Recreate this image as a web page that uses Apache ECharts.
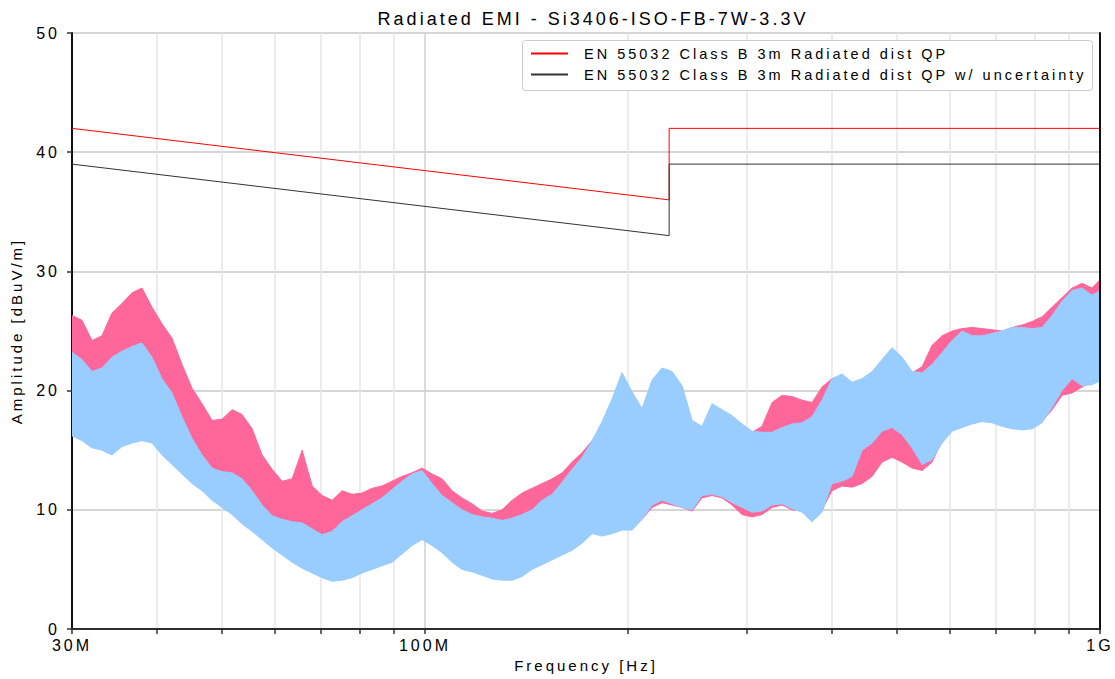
<!DOCTYPE html>
<html>
<head>
<meta charset="utf-8">
<script src="https://cdn.jsdelivr.net/npm/echarts@6/dist/echarts.min.js"></script>
<style>
  html, body { margin: 0; padding: 0; background: #ffffff; }
  #chart { width: 1115px; height: 679px; }
  #chart text { letter-spacing: 3px; }
</style>
</head>
<body>
<div id="chart"></div>
<script>
// ---------------- data ----------------
// sample frequencies (MHz)
const freqMHz = [30, 31.04, 32.12, 33.23, 34.38, 35.57, 36.81, 38.09, 39.41, 40.78,
  42.2, 43.66, 45.18, 46.75, 48.37, 50.05, 51.79, 53.59, 55.45, 57.38,
  59.37, 61.43, 63.57, 65.78, 68.06, 70.42, 72.87, 75.36, 77.97, 80.68,
  83.48, 86.38, 89.38, 92.48, 95.69, 99.02, 102.46, 106.02, 109.68, 113.49,
  117.43, 121.51, 125.73, 130.1, 134.63, 139.25, 144.08, 149.09, 154.27, 159.63,
  165.17, 170.91, 176.85, 182.99, 189.29, 195.86, 202.67, 209.71, 217.04, 224.57,
  232.34, 240.41, 248.76, 257.31, 266.25, 275.5, 285.07, 294.93, 305.17, 315.73,
  326.7, 338.05, 349.76, 361.92, 374.47, 387.46, 400.91, 414.83, 429.27, 444.14,
  459.58, 475.47, 491.98, 509.06, 526.69, 545.07, 563.97, 583.55, 603.81, 624.78,
  646.33, 668.74, 692, 716, 740.9, 766.6, 793.2, 820.6, 849.2, 878.6,
  909.1, 940.6, 973.3, 1000];

// measurement 1 (pink) envelope: upper / lower (dBuV/m)
const pinkUpper = [26.3, 25.9, 24.2, 24.6, 26.5, 27.3, 28.2, 28.6, 27.0, 25.6,
  24.4, 22.2, 20.2, 18.9, 17.5, 17.6, 18.4, 18.0, 16.8, 14.6,
  13.4, 12.4, 12.6, 15.0, 12.0, 11.2, 10.8, 11.6, 11.3, 11.4,
  11.8, 12.0, 12.4, 12.8, 13.1, 13.5, 13.0, 12.6, 11.6, 11.0,
  10.5, 9.9, 9.7, 10.0, 10.8, 11.4, 11.8, 12.2, 12.6, 13.1,
  14.0, 14.8, 15.8, 17.0, 19.0, 20.8, 19.6, 18.3, 20.7, 21.6,
  21.2, 20.2, 17.3, 16.8, 18.6, 18.2, 17.6, 17.0, 16.5, 17.0,
  19.0, 19.6, 19.5, 19.2, 19.0, 20.3, 21.0, 21.2, 20.6, 20.8,
  21.5, 22.5, 23.2, 22.5, 21.5, 22.0, 23.8, 24.6, 25.0, 25.2,
  25.3, 25.2, 25.1, 25.0, 25.3, 25.5, 25.8, 26.2, 27.0, 27.8,
  28.6, 29.0, 28.6, 29.3];
const pinkLower = [19.0, 18.8, 18.0, 18.0, 19.0, 19.8, 20.5, 20.8, 20.0, 18.8,
  17.5, 15.8, 14.2, 12.8, 11.8, 11.6, 11.5, 11.0, 10.0, 9.0,
  8.0, 7.5, 7.2, 7.0, 6.6, 6.0, 5.6, 5.6, 5.8, 6.2,
  6.6, 7.0, 7.4, 7.8, 8.0, 8.0, 7.4, 6.8, 6.0, 5.4,
  5.0, 4.6, 4.4, 4.4, 4.6, 5.0, 5.4, 5.8, 6.2, 6.6,
  7.0, 7.6, 8.2, 8.2, 8.4, 8.4, 8.6, 9.2, 10.2, 10.6,
  10.4, 10.2, 9.9, 11.0, 11.2, 11.0, 10.4, 9.6, 9.4, 9.6,
  10.2, 10.4, 10.0, 9.9, 9.4, 10.0, 11.6, 12.0, 11.9, 12.2,
  12.8, 14.0, 14.4, 14.0, 13.5, 13.3, 14.0, 15.8, 16.8, 17.2,
  17.4, 17.6, 17.5, 17.2, 17.0, 16.9, 17.0, 17.4, 18.4, 19.6,
  19.8, 20.3, 20.8, 21.0];

// measurement 2 (light blue) envelope: upper / lower (dBuV/m)
const blueUpper = [23.2, 22.6, 21.6, 21.9, 22.8, 23.3, 23.7, 24.0, 22.8, 21.0,
  19.8, 17.8, 16.0, 14.6, 13.5, 13.2, 13.1, 12.6, 11.6, 10.4,
  9.5, 9.2, 9.0, 8.9, 8.4, 7.9, 8.2, 9.0, 9.5, 10.0,
  10.5, 11.0, 11.7, 12.4, 13.0, 13.3, 12.2, 11.2, 10.6, 10.0,
  9.6, 9.4, 9.3, 9.1, 9.3, 9.6, 10.0, 10.8, 11.3, 12.3,
  13.4, 14.4, 15.8, 17.4, 19.3, 21.5, 19.9, 18.5, 20.9, 21.9,
  21.6, 20.4, 17.5, 17.0, 18.9, 18.4, 17.9, 17.2, 16.6, 16.5,
  16.5, 16.9, 17.2, 17.3, 17.8, 19.2, 21.0, 21.4, 20.7, 21.0,
  21.6, 22.6, 23.6, 22.8, 21.6, 21.5, 22.2, 23.2, 24.2, 25.0,
  24.6, 24.6, 24.8, 25.0, 25.3, 25.3, 25.2, 25.3, 26.3, 27.5,
  28.4, 28.6, 28.0, 28.4];
const blueLower = [16.2, 15.8, 15.2, 15.0, 14.6, 15.3, 15.6, 15.8, 15.6, 14.6,
  13.8, 13.0, 12.2, 11.6, 10.8, 10.2, 9.6, 8.8, 8.2, 7.5,
  6.8, 6.2, 5.6, 5.1, 4.7, 4.3, 4.0, 4.1, 4.3, 4.7,
  5.0, 5.3, 5.6, 6.3, 7.0, 7.5, 7.0, 6.4, 5.6, 5.0,
  4.8, 4.5, 4.2, 4.1, 4.1, 4.4, 5.0, 5.4, 5.8, 6.2,
  6.6, 7.2, 8.0, 7.8, 8.0, 8.3, 8.3, 9.2, 10.4, 10.8,
  10.5, 10.2, 10.0, 11.2, 11.3, 11.1, 10.6, 10.2, 9.8, 9.9,
  10.4, 10.5, 10.1, 9.8, 9.0, 9.8, 12.2, 12.4, 12.8, 15.0,
  15.6, 16.6, 16.9, 16.3, 15.2, 13.8, 14.2, 15.6, 16.6, 16.9,
  17.2, 17.4, 17.3, 17.0, 16.8, 16.7, 16.8, 17.3, 18.6, 20.0,
  21.0, 20.4, 20.5, 20.8];

// limit lines: [frequency MHz, level dBuV/m]
const limitQP = [[30, 42], [230, 36], [230, 42], [1000, 42]];
const limitQPUnc = [[30, 39], [230, 33], [230, 39], [1000, 39]];

// axis ticks (MHz)
const xTickMHz = [30, 40, 50, 60, 70, 80, 90, 100, 200, 300, 400, 500, 600, 700, 800, 900, 1000];
const xLabelMHz = [30, 100, 1000];
const yTicks = [0, 10, 20, 30, 40, 50];

const titleText = 'Radiated EMI - Si3406-ISO-FB-7W-3.3V';
const xName = 'Frequency [Hz]';
const yName = 'Amplitude [dBuV/m]';
const nameQP = 'EN 55032 Class B 3m Radiated dist QP';
const nameQPUnc = 'EN 55032 Class B 3m Radiated dist QP w/ uncertainty';

// ---------------- chart ----------------
const M = 1e6;
const freqHz = freqMHz.map(f => f * M);
const FONT = "'Liberation Sans', Arial, sans-serif";

function bandSeries(upper, lower, color, z) {
  return {
    type: 'custom',
    z: z,
    silent: true,
    clip: true,
    data: freqHz.map((f, i) => [f, upper[i], lower[i]]),
    encode: { x: 0, y: [1, 2] },
    renderItem: function (params, api) {
      if (params.dataIndex !== 0) return null;
      const pts = [];
      for (let i = 0; i < freqHz.length; i++) pts.push(api.coord([freqHz[i], upper[i]]));
      for (let i = freqHz.length - 1; i >= 0; i--) pts.push(api.coord([freqHz[i], lower[i]]));
      return {
        type: 'polygon',
        shape: { points: pts },
        style: { fill: color, stroke: color, lineWidth: 1 }
      };
    }
  };
}

const minorColor = '#e6e6e6';
const majorColor = '#cfcfcf';
const xSplitColors = xTickMHz.map(v => (v === 100 ? majorColor : minorColor));

function fmtFreq(v) {
  if (v >= 1e9) return (v / 1e9) + 'G';
  return Math.round(v / 1e6) + 'M';
}

const chart = echarts.init(document.getElementById('chart'), null, { renderer: 'svg', width: 1115, height: 679 });

chart.setOption({
  animation: false,
  backgroundColor: '#ffffff',
  title: {
    text: titleText,
    left: 588,
    textAlign: 'center',
    top: 5,
    textStyle: { fontFamily: FONT, fontSize: 18, fontWeight: 'normal', color: '#000000' }
  },
  // legend frame (the legend measures its text without the letter spacing)
  graphic: [{
    type: 'rect',
    left: 522,
    top: 40,
    z: 9,
    silent: true,
    shape: { width: 570, height: 50, r: 3 },
    style: { fill: '#ffffff', stroke: '#cccccc', lineWidth: 1 }
  }],
  legend: {
    orient: 'vertical',
    left: 522,
    top: 41,
    z: 10,
    padding: [5, 12, 6, 8],
    itemGap: 6,
    itemWidth: 37,
    itemHeight: 10,
    itemStyle: { opacity: 0 },
    textStyle: { fontFamily: FONT, fontSize: 14.5, color: '#000000', padding: [0, 0, 0, 11] },
    data: [
      { name: nameQP, itemStyle: { opacity: 0 } },
      { name: nameQPUnc, itemStyle: { opacity: 0 } }
    ]
  },
  grid: { left: 72, right: 15, top: 33, bottom: 50, containLabel: false },
  xAxis: [{
    type: 'log',
    logBase: 10,
    min: 30 * M,
    max: 1000 * M,
    z: 0,
    name: xName,
    nameLocation: 'middle',
    nameGap: 28,
    nameTextStyle: { fontFamily: FONT, fontSize: 15, color: '#000000' },
    axisLine: { show: true, lineStyle: { color: '#555555', width: 2 } },
    axisTick: { show: true, length: 5, inside: false, customValues: xTickMHz.map(v => v * M), lineStyle: { color: '#333333', width: 1.5 } },
    axisLabel: { show: true, customValues: xLabelMHz.map(v => v * M), formatter: fmtFreq, margin: 8, fontFamily: FONT, fontSize: 16, color: '#000000' },
    splitLine: { show: true, lineStyle: { color: xSplitColors, width: 1.5 } },
    minorTick: { show: false },
    minorSplitLine: { show: false }
  }, {
    type: 'log',
    logBase: 10,
    min: 30 * M,
    max: 1000 * M,
    position: 'top',
    z: 10,
    axisLine: { show: true, lineStyle: { color: '#222222', width: 1.5 } },
    axisTick: { show: false },
    axisLabel: { show: false },
    splitLine: { show: false }
  }],
  yAxis: [{
    type: 'value',
    min: 0,
    max: 50,
    interval: 10,
    z: 0,
    name: yName,
    nameLocation: 'middle',
    nameGap: 48,
    nameTextStyle: { fontFamily: FONT, fontSize: 15, color: '#000000' },
    axisLine: { show: true, lineStyle: { color: '#111111', width: 2 } },
    axisTick: { show: true, length: 5, inside: false, customValues: yTicks, lineStyle: { color: '#333333', width: 1.5 } },
    axisLabel: { margin: 12, fontFamily: FONT, fontSize: 16, color: '#000000' },
    splitLine: { show: true, lineStyle: { color: '#c8c8c8', width: 1.5 } }
  }, {
    type: 'value',
    min: 0,
    max: 50,
    interval: 10,
    position: 'right',
    z: 10,
    axisLine: { show: true, lineStyle: { color: '#111111', width: 2 } },
    axisTick: { show: false },
    axisLabel: { show: false },
    splitLine: { show: false }
  }],
  series: [
    bandSeries(pinkUpper, pinkLower, '#ff6699', 2),
    bandSeries(blueUpper, blueLower, '#99ccff', 3),
    {
      name: nameQP,
      type: 'line',
      z: 4,
      symbol: 'none',
      silent: true,
      data: limitQP.map(p => [p[0] * M, p[1]]),
      lineStyle: { color: '#ff0000', width: 1 },
      itemStyle: { color: '#ff0000' }
    },
    {
      name: nameQPUnc,
      type: 'line',
      z: 4,
      symbol: 'none',
      silent: true,
      data: limitQPUnc.map(p => [p[0] * M, p[1]]),
      lineStyle: { color: '#333333', width: 1 },
      itemStyle: { color: '#333333' }
    }
  ]
});
</script>
</body>
</html>
